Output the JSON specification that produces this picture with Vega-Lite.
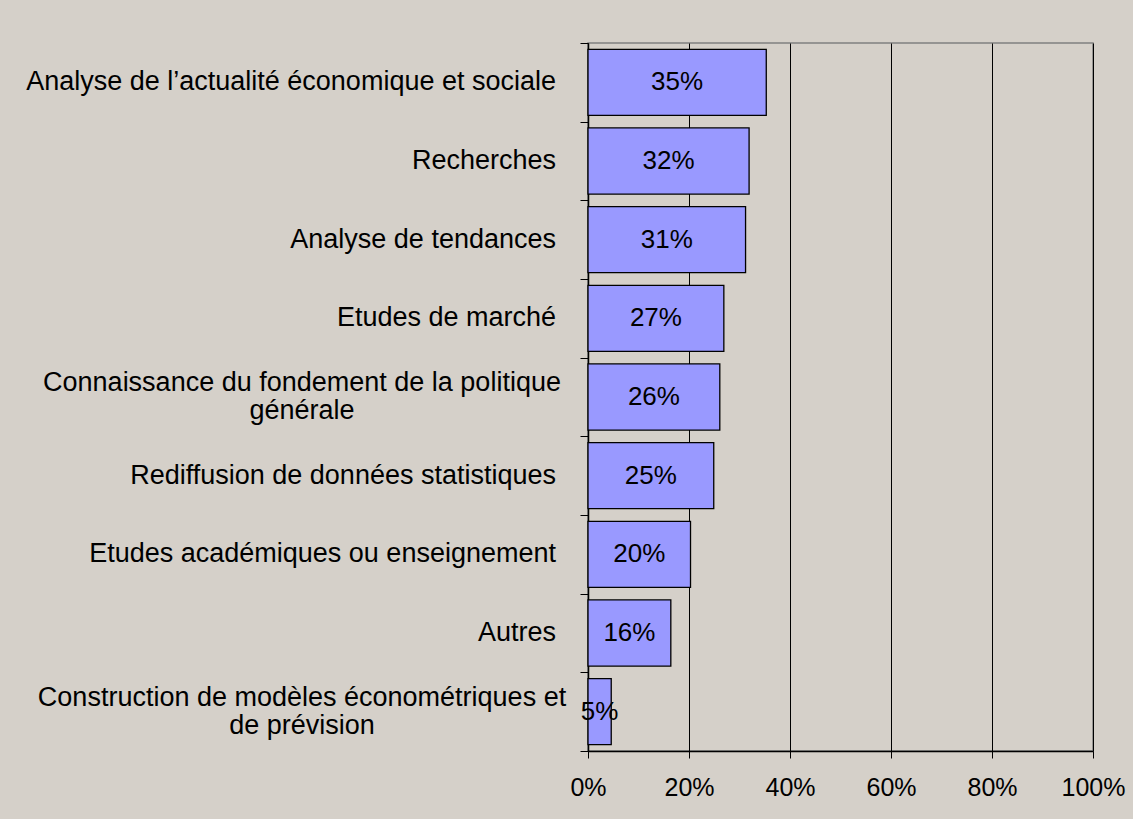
{
  "$schema": "https://vega.github.io/schema/vega-lite/v6.json",
  "autosize": "none",
  "width": 505,
  "height": 708,
  "padding": {"left": 588, "top": 43, "right": 40, "bottom": 68},
  "background": "#D5D0C9",
  "config": {
    "font": "Liberation Sans",
    "view": {"stroke": "#808080", "strokeWidth": 1.5, "fill": "#D5D0C9"}
  },
  "data": {
    "values": [
      {"usage": "Analyse de l’actualité économique et sociale", "value": 0.353},
      {"usage": "Recherches", "value": 0.319},
      {"usage": "Analyse de tendances", "value": 0.312},
      {"usage": "Etudes de marché", "value": 0.269},
      {"usage": "Connaissance du fondement de la politique\ngénérale", "value": 0.261},
      {"usage": "Rediffusion de données statistiques", "value": 0.249},
      {"usage": "Etudes académiques ou enseignement", "value": 0.203},
      {"usage": "Autres", "value": 0.164},
      {"usage": "Construction de modèles économétriques et\nde prévision", "value": 0.046}
    ]
  },
  "encoding": {
    "y": {
      "field": "usage",
      "type": "nominal",
      "sort": null,
      "scale": {"paddingInner": 0, "paddingOuter": 0},
      "axis": {
        "title": null,
        "labels": false,
        "tickBand": "extent",
        "tickSize": 8,
        "tickColor": "black",
        "domainColor": "black",
        "domainWidth": 1.5
      }
    }
  },
  "layer": [
    {
      "mark": {"type": "bar", "fill": "#9999FF", "stroke": "black", "strokeWidth": 1.3, "height": {"band": 0.84}},
      "encoding": {
        "x": {
          "field": "value",
          "type": "quantitative",
          "scale": {"domain": [0, 1], "nice": false},
          "axis": {
            "orient": "bottom",
            "title": null,
            "values": [0, 0.2, 0.4, 0.6, 0.8, 1],
            "format": ".0%",
            "grid": true,
            "gridColor": "black",
            "gridWidth": 1,
            "gridOpacity": 1,
            "tickSize": 7,
            "tickColor": "black",
            "domainColor": "black",
            "domainWidth": 1.5,
            "labelFontSize": 25,
            "labelColor": "black",
            "labelPadding": 17,
            "labelFlush": false
          }
        }
      }
    },
    {
      "mark": {"type": "text", "fontSize": 26, "color": "black", "align": "center", "baseline": "middle", "font": "Liberation Sans"},
      "encoding": {
        "x": {
          "field": "value",
          "type": "quantitative",
          "scale": {"domain": [0, 2], "nice": false},
          "axis": null
        },
        "text": {"field": "value", "type": "quantitative", "format": ".0%"}
      }
    },
    {
      "transform": [{"filter": "indexof(datum.usage, '\\n') < 0"}],
      "mark": {"type": "text", "fontSize": 27, "color": "black", "align": "right", "baseline": "middle", "dx": -32, "font": "Liberation Sans"},
      "encoding": {
        "x": {"datum": 0, "type": "quantitative", "scale": {"domain": [0, 1], "nice": false}, "axis": null},
        "text": {"field": "usage", "type": "nominal"}
      }
    },
    {
      "transform": [{"filter": "indexof(datum.usage, '\\n') >= 0"}],
      "mark": {"type": "text", "fontSize": 27, "color": "black", "align": "center", "baseline": "line-bottom", "lineHeight": 28, "lineBreak": "\n", "dx": -286, "font": "Liberation Sans"},
      "encoding": {
        "x": {"datum": 0, "type": "quantitative", "scale": {"domain": [0, 1], "nice": false}, "axis": null},
        "text": {"field": "usage", "type": "nominal"}
      }
    }
  ],
  "resolve": {"scale": {"x": "independent"}}
}
